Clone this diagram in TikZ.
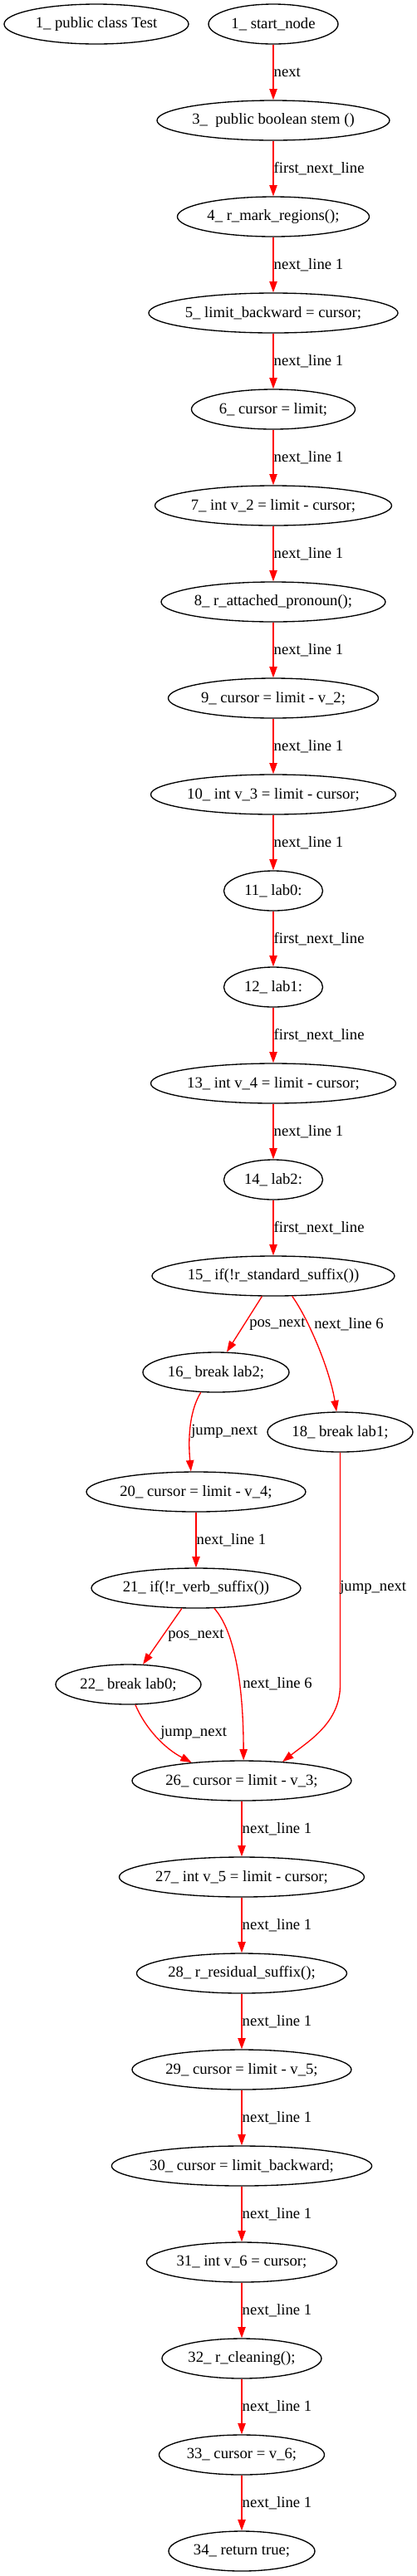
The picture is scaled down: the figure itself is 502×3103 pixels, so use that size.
\documentclass[tikz,border=0pt]{standalone}
\usepackage{fontspec}
\setmainfont{Liberation Serif}
\usetikzlibrary{shapes.geometric,arrows.meta}
\begin{document}
\begin{tikzpicture}[x=0.75pt,y=-0.75pt,
  nd/.style={ellipse,draw=black,line width=1pt,minimum height=36pt,minimum width=#1*0.75pt,inner sep=0pt,font=\fontsize{14}{16}\selectfont},
  ed/.style={draw=red,line width=1pt,-{Triangle[length=10pt,width=7pt]}},
  lb/.style={anchor=west,inner sep=0pt,font=\fontsize{14}{16}\selectfont}]
\useasboundingbox (0,0) rectangle (502,3103);
% nodes
\node[nd=222] (n1a) at (116,29) {1\_ public class Test};
\node[nd=156] (n1) at (329,29) {1\_ start\_node};
\node[nd=280] (n3) at (329,145) {3\_\ \ public boolean stem ()};
\node[nd=231] (n4) at (329,261) {4\_ r\_mark\_regions();};
\node[nd=300] (n5) at (329,377) {5\_ limit\_backward = cursor;};
\node[nd=197] (n6) at (329,493) {6\_ cursor = limit;};
\node[nd=285] (n7) at (329,609) {7\_ int v\_2 = limit - cursor;};
\node[nd=270] (n8) at (329,725) {8\_ r\_attached\_pronoun();};
\node[nd=253] (n9) at (329,841) {9\_ cursor = limit - v\_2;};
\node[nd=295] (n10) at (329,957) {10\_ int v\_3 = limit - cursor;};
\node[nd=119] (n11) at (329,1073) {11\_ lab0:};
\node[nd=119] (n12) at (329,1189) {12\_ lab1:};
\node[nd=295] (n13) at (329,1305) {13\_ int v\_4 = limit - cursor;};
\node[nd=119] (n14) at (329,1421) {14\_ lab2:};
\node[nd=290] (n15) at (329,1537) {15\_ if(!r\_standard\_suffix())};
\node[nd=176] (n16) at (260,1653) {16\_ break lab2;};
\node[nd=175] (n18) at (409.5,1725) {18\_ break lab1;};
\node[nd=264] (n20) at (236,1797) {20\_ cursor = limit - v\_4;};
\node[nd=252] (n21) at (236,1913) {21\_ if(!r\_verb\_suffix())};
\node[nd=175] (n22) at (154.5,2029) {22\_ break lab0;};
\node[nd=264] (n26) at (291,2145) {26\_ cursor = limit - v\_3;};
\node[nd=295] (n27) at (291,2261) {27\_ int v\_5 = limit - cursor;};
\node[nd=253] (n28) at (291,2377) {28\_ r\_residual\_suffix();};
\node[nd=264] (n29) at (291,2493) {29\_ cursor = limit - v\_5;};
\node[nd=311] (n30) at (291,2609) {30\_ cursor = limit\_backward;};
\node[nd=229] (n31) at (291,2725) {31\_ int v\_6 = cursor;};
\node[nd=192] (n32) at (291,2841) {32\_ r\_cleaning();};
\node[nd=199] (n33) at (291,2957) {33\_ cursor = v\_6;};
\node[nd=176] (n34) at (291,3073) {34\_ return true;};
% straight chain edges
\draw[ed] (n1) -- (n3) node[lb,midway] {next};
\draw[ed] (n3) -- (n4) node[lb,midway] {first\_next\_line};
\draw[ed] (n4) -- (n5) node[lb,midway] {next\_line 1};
\draw[ed] (n5) -- (n6) node[lb,midway] {next\_line 1};
\draw[ed] (n6) -- (n7) node[lb,midway] {next\_line 1};
\draw[ed] (n7) -- (n8) node[lb,midway] {next\_line 1};
\draw[ed] (n8) -- (n9) node[lb,midway] {next\_line 1};
\draw[ed] (n9) -- (n10) node[lb,midway] {next\_line 1};
\draw[ed] (n10) -- (n11) node[lb,midway] {next\_line 1};
\draw[ed] (n11) -- (n12) node[lb,midway] {first\_next\_line};
\draw[ed] (n12) -- (n13) node[lb,midway] {first\_next\_line};
\draw[ed] (n13) -- (n14) node[lb,midway] {next\_line 1};
\draw[ed] (n14) -- (n15) node[lb,midway] {first\_next\_line};
\draw[ed] (n20) -- (n21) node[lb,midway] {next\_line 1};
\draw[ed] (n26) -- (n27) node[lb,midway] {next\_line 1};
\draw[ed] (n27) -- (n28) node[lb,midway] {next\_line 1};
\draw[ed] (n28) -- (n29) node[lb,midway] {next\_line 1};
\draw[ed] (n29) -- (n30) node[lb,midway] {next\_line 1};
\draw[ed] (n30) -- (n31) node[lb,midway] {next\_line 1};
\draw[ed] (n31) -- (n32) node[lb,midway] {next\_line 1};
\draw[ed] (n32) -- (n33) node[lb,midway] {next\_line 1};
\draw[ed] (n33) -- (n34) node[lb,midway] {next\_line 1};
% branching edges
\draw[ed] (n15.241) -- (n16.62);
\node[lb] (l1516) at (300,1595) {pos\_next};
\draw[ed] (n15.313) .. controls (372,1590) and (397,1650) .. (n18.100.6);
\node[lb] (l1518) at (378,1595) {next\_line 6};
\draw[ed] (n16.233) .. controls (226,1703) and (227,1740) .. (n20.104);
\node[lb] (l1620) at (230,1724) {jump\_next};
\draw[ed] (n21.235) -- (n22.54);
\node[lb] (l2122) at (202,1970) {pos\_next};
\draw[ed] (n21.312.5) .. controls (280,1962) and (293,2020) .. (n26.85);
\node[lb] (l2126) at (292,2028) {next\_line 6};
\coordinate (b18) at (409.5,2030);
\draw[ed] (n18.south) -- (b18) .. controls (409.5,2075) and (372,2097) .. (n26.25);
\node[lb] (l1826) at (409,1912) {jump\_next};
\draw[ed] (n22.289) .. controls (175,2082) and (198,2106) .. (n26.160);
\node[lb] (l2226) at (193,2087) {jump\_next};
\end{tikzpicture}
\end{document}
